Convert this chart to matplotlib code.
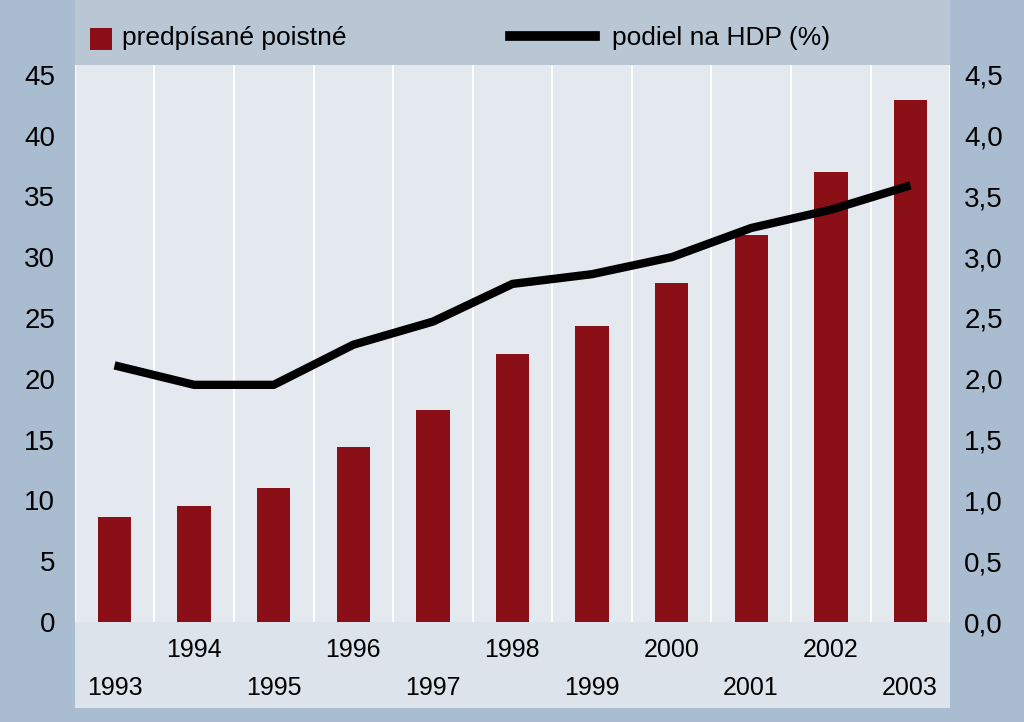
import matplotlib
matplotlib.use("Agg")
import matplotlib.pyplot as plt
from matplotlib.patches import Rectangle

plt.rcParams['font.family'] = ['Liberation Sans', 'DejaVu Sans']

years = [1993, 1994, 1995, 1996, 1997, 1998, 1999, 2000, 2001, 2002, 2003]
premiums = [8.6, 9.5, 11.0, 14.4, 17.4, 22.0, 24.3, 27.9, 31.8, 37.0, 42.9]
gdp_share = [2.11, 1.95, 1.95, 2.28, 2.47, 2.78, 2.86, 3.0, 3.24, 3.39, 3.59]
left_ticks = [0, 5, 10, 15, 20, 25, 30, 35, 40, 45]
right_ticks = [0, 0.5, 1.0, 1.5, 2.0, 2.5, 3.0, 3.5, 4.0, 4.5]

BG = "#aabdd0"
PLOT_BG = "#e4e9ef"
BAR = "#8b0f16"

fig = plt.figure(figsize=(10.24, 7.22), dpi=100, facecolor=BG)
# bands
fig.patches.append(Rectangle((0.073, 0.02), 0.855, 0.12, transform=fig.transFigure,
                             facecolor="#dde3ea", edgecolor="none", zorder=-5))
fig.patches.append(Rectangle((0.073, 0.91), 0.855, 0.09, transform=fig.transFigure,
                             facecolor="#b9c7d5", edgecolor="none", zorder=-5))

ax = fig.add_axes([0.073, 0.1385, 0.855, 0.7715])
ax.set_facecolor(PLOT_BG)
x = list(range(len(years)))
ax.bar(x, premiums, width=0.42, color=BAR, zorder=3)
ax.set_xlim(-0.5, len(years) - 0.5)
ax.set_ylim(0, 45.8)
for b in range(len(years) + 1):
    ax.axvline(b - 0.5, color="white", lw=1.5, zorder=1)
for s in ax.spines.values():
    s.set_visible(False)
ax.set_xticks([])
ax.set_yticks(left_ticks)
ax.set_yticklabels([str(t) for t in left_ticks], fontsize=20)
ax.tick_params(axis="y", length=0, pad=14)

ax2 = ax.twinx()
ax2.plot(x, gdp_share, color="black", lw=6, zorder=4, solid_capstyle="butt")
ax2.set_ylim(0, 4.58)
ax2.set_yticks(right_ticks)
ax2.set_yticklabels([f"{t:.1f}".replace(".", ",") for t in right_ticks], fontsize=20)
ax2.tick_params(axis="y", length=0, pad=10)
for s in ax2.spines.values():
    s.set_visible(False)

for i, yr in enumerate(years):
    yy = 1 - 688 / 722 if i % 2 == 0 else 1 - 650 / 722
    fig.text((75 + 79.5 * (i + 0.5)) / 1024, yy, str(yr), ha="center", va="center",
             fontsize=18, zorder=10)

# legend
fig.patches.append(Rectangle((90 / 1024, 1 - 50 / 722), 22 / 1024, 22 / 722,
                             transform=fig.transFigure, facecolor=BAR, edgecolor="none"))
fig.text(122 / 1024, 1 - 38 / 722, "predpísané poistné", fontsize=19, va="center")
fig.lines.append(plt.Line2D([510 / 1024, 595 / 1024], [1 - 36 / 722] * 2,
                            transform=fig.transFigure, color="black", lw=7))
fig.text(612 / 1024, 1 - 38 / 722, "podiel na HDP (%)", fontsize=19, va="center")

fig.savefig("out.png", dpi=100, facecolor=BG)
